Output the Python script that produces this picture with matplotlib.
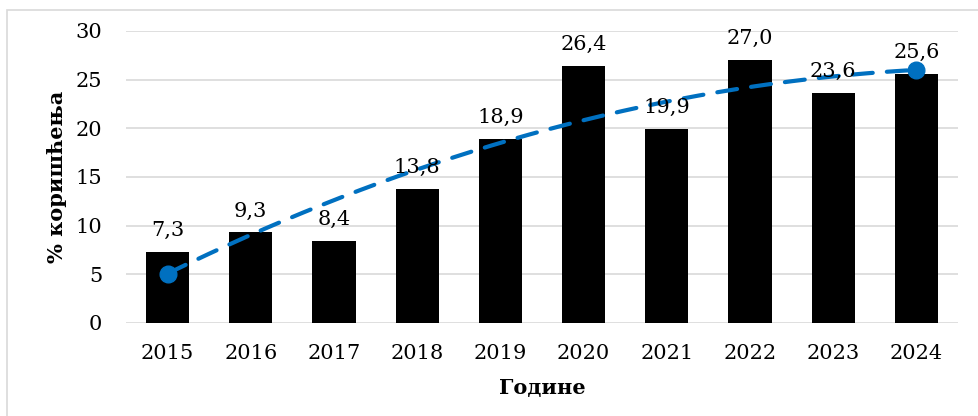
import matplotlib.pyplot as plt
import matplotlib.patches as mpatches
import numpy as np

# --- Data ---
years = ["2015", "2016", "2017", "2018", "2019", "2020", "2021", "2022", "2023", "2024"]
usage = [7.3, 9.3, 8.4, 13.8, 18.9, 26.4, 19.9, 27.0, 23.6, 25.6]
value_labels = ["7,3", "9,3", "8,4", "13,8", "18,9", "26,4", "19,9", "27,0", "23,6", "25,6"]

plt.rcParams["font.family"] = ["DejaVu Serif"]

# --- Plot ---
fig = plt.figure(figsize=(9.79, 4.16), dpi=100)
ax = fig.add_axes([126 / 979, 93 / 416, 832 / 979, 292 / 416])

x = np.arange(len(years))
ax.bar(x, usage, width=0.52, color="black", zorder=2)

# value labels above bars
for xi, v, lab in zip(x, usage, value_labels):
    ax.annotate(lab, (xi, v), xytext=(0, 11.5), textcoords="offset points",
                ha="center", va="baseline", fontsize=15, color="black", zorder=4)

# polynomial (order 2) trendline, as in the original chart
coef = np.polyfit(x, usage, 2)
xt = np.linspace(x[0], x[-1], 200)
yt = np.polyval(coef, xt)
ax.plot(xt, yt, color="#0070C0", linewidth=3, dashes=(4.8, 3.4),
        dash_capstyle="round", zorder=3)
ax.plot([xt[0], xt[-1]], [yt[0], yt[-1]], "o", color="#0070C0",
        markersize=12, zorder=3)

# axes styling
ax.set_xlim(-0.5, len(years) - 0.5)
ax.set_ylim(0, 30)
ax.set_yticks(range(0, 31, 5))
ax.set_xticks(x)
ax.set_xticklabels(years)
ax.tick_params(axis="both", length=0, labelsize=15)
ax.tick_params(axis="y", pad=17)
ax.tick_params(axis="x", pad=15)
ax.yaxis.grid(True, color="#D9D9D9", linewidth=1.2, zorder=0)
ax.set_axisbelow(True)
for s in ax.spines.values():
    s.set_visible(False)

ax.set_ylabel("% коришћења", fontsize=15, fontweight="bold", labelpad=6)
ax.set_xlabel("Године", fontsize=15, fontweight="bold", labelpad=11)

# chart border
fig.patches.append(mpatches.Rectangle((7 / 979, -0.1), 1.2, 1.1 - 10 / 416,
                                      transform=fig.transFigure, fill=False,
                                      edgecolor="#D9D9D9", linewidth=1.2))

# --- Render ---
fig.savefig("out.png", dpi=100)
plt.close()
